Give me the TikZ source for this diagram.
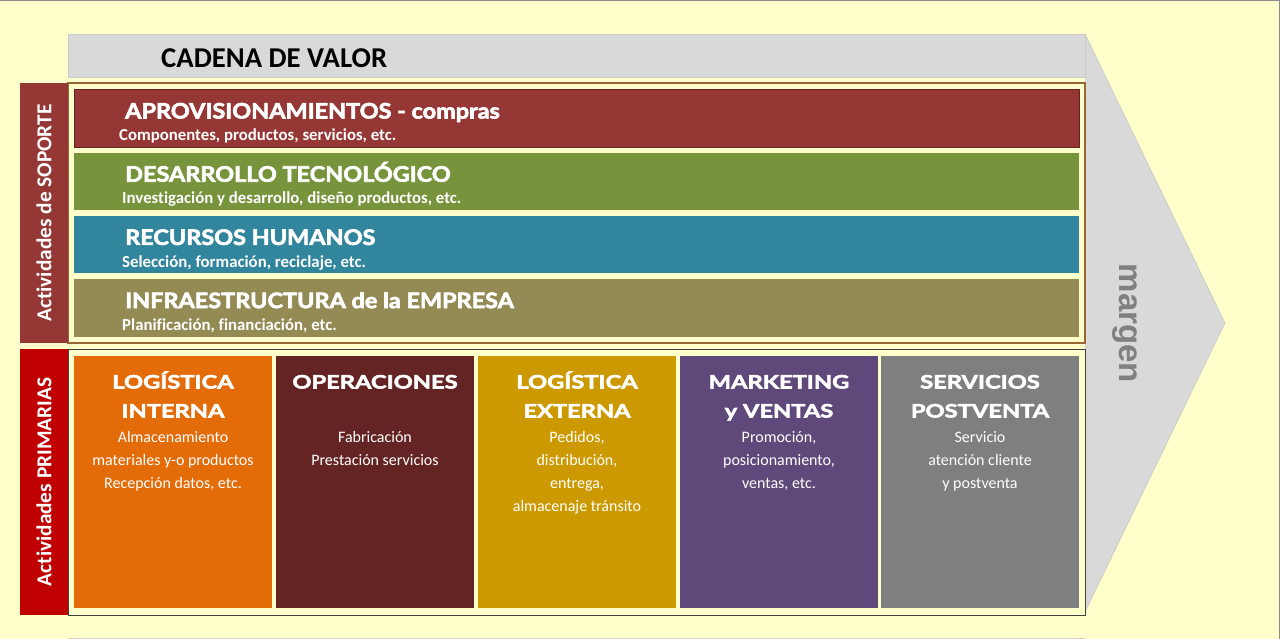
\documentclass[tikz,border=0pt]{standalone}
\usepackage{fontspec}
\setmainfont{Carlito}[Ligatures=NoCommon]
\newfontfamily\barfont{Lato}[FakeStretch=1.1, BoldFeatures={FakeBold=3}]
\newfontfamily\colfont{Lato}[FakeStretch=1.28, BoldFeatures={FakeBold=3}]
\newfontfamily\margenfont{Liberation Sans}
\usepackage{xcolor}
\usepackage{tikz}
\usetikzlibrary{positioning}

\definecolor{fondo}{HTML}{FFFFCC}
\definecolor{grisflecha}{HTML}{D9D9D9}
\definecolor{bordeflecha}{HTML}{BFBFBF}
\definecolor{aprov}{HTML}{953735}
\definecolor{tecno}{HTML}{77933C}
\definecolor{rrhh}{HTML}{31859C}
\definecolor{infra}{HTML}{948A54}
\definecolor{soporte}{HTML}{953735}
\definecolor{primarias}{HTML}{C00000}
\definecolor{logint}{HTML}{E36C09}
\definecolor{operac}{HTML}{632423}
\definecolor{logext}{HTML}{CC9900}
\definecolor{mkt}{HTML}{5F497A}
\definecolor{postv}{HTML}{7F7F7F}

% strut for the first line of the column texts
\newcommand{\puntal}[1]{\rule{0pt}{#1}}

\begin{document}
\begin{tikzpicture}[x=1pt, y=-1pt,
    barra/.style={rectangle, inner sep=0pt, outer sep=0pt, anchor=north west,
        minimum width=1005pt, minimum height=57.5pt},
    columna/.style={rectangle, inner sep=0pt, outer sep=0pt, anchor=north west,
        minimum width=198pt, minimum height=252pt},
    titbarra/.style={anchor=base west, inner sep=0pt, text=white,
        font=\barfont\bfseries\fontsize{21.3}{21.3}\selectfont},
    subbarra/.style={anchor=base west, inner sep=0pt, text=white,
        font=\bfseries\fontsize{16.8}{16.8}\selectfont},
    titcol/.style={anchor=north, inner sep=0pt, text=white, align=center,
        font=\colfont\bfseries\fontsize{18.5}{29}\selectfont},
    desccol/.style={anchor=north, inner sep=0pt, text=white, align=center,
        font=\fontsize{16}{23}\selectfont},
    etiqueta/.style={rectangle, inner sep=0pt, outer sep=0pt, anchor=north west,
        minimum width=48pt},
    textetiq/.style={rotate=90, inner sep=0pt, text=white,
        font=\bfseries\fontsize{21.3}{21.3}\selectfont}]

\useasboundingbox (0,0) rectangle (1280,639);
\fill[fondo] (0,0) rectangle (1280,639);
\draw[gray!90] (0,0.5) -- (1280,0.5);
\draw[gray!90] (1279.5,0) -- (1279.5,639);
\draw[bordeflecha!70!fondo] (68,638) -- (1085,638);

% Flecha gris (cadena de valor y margen)
\filldraw[fill=grisflecha, draw=bordeflecha] (1085,34) -- (1225,323) -- (1085,612) -- cycle;
\node[rectangle, fill=grisflecha, draw=bordeflecha!60!grisflecha, inner sep=0pt, anchor=north west,
    minimum width=1017pt, minimum height=43pt] (titulo) at (68,34) {};
\node[anchor=base west, inner sep=0pt, font=\bfseries\fontsize{28.7}{28.7}\selectfont] (tCadena) at (161,67.3) {CADENA DE VALOR};
\node[rotate=-90, inner sep=0pt, text=gray, font=\margenfont\bfseries\fontsize{33}{33}\selectfont] (margen) at (1124.5,323.5) {margen};

% Marcos
\draw[draw=brown!80!black, line width=1.2pt, fill=fondo] (68,83) rectangle (1085,343);
\draw[draw=black!75, line width=1pt, fill=fondo] (68,349) rectangle (1085,615);

% Etiquetas laterales
\node[etiqueta, fill=soporte, minimum height=260pt] (eSoporte) at (20,83) {};
\node[textetiq] (tSoporte) at (eSoporte.center) {Actividades de SOPORTE};
\node[etiqueta, fill=primarias, minimum height=266pt] (ePrimarias) at (20,349) {};
\node[textetiq] (tPrimarias) at (ePrimarias.center) {Actividades PRIMARIAS};

% Actividades de soporte
\node[barra, fill=aprov, draw=operac] (aprov) at (74,89.5) {};
\node[barra, fill=tecno] (tecno) at (74,152.7) {};
\node[barra, fill=rrhh] (rrhh) at (74,215.9) {};
\node[barra, fill=infra] (infra) at (74,279.1) {};

\node[titbarra] (tAprov) at (125,118.5) {APROVISIONAMIENTOS - compras};
\node[subbarra] (sAprov) at (119,140.8) {Componentes, productos, servicios, etc.};
\node[titbarra] (tTecno) at (125,181.7) {DESARROLLO TECNOLÓGICO};
\node[subbarra] (sTecno) at (122,204) {Investigación y desarrollo, diseño productos, etc.};
\node[titbarra] (tRrhh) at (125,244.9) {RECURSOS HUMANOS};
\node[subbarra] (sRrhh) at (122,267.2) {Selección, formación, reciclaje, etc.};
\node[titbarra] (tInfra) at (125,308.1) {INFRAESTRUCTURA de la EMPRESA};
\node[subbarra] (sInfra) at (122,330.4) {Planificación, financiación, etc.};

% Actividades primarias
\node[columna, fill=logint] (logint) at (74,356) {};
\node[columna, fill=operac] (operac) at (276,356) {};
\node[columna, fill=logext] (logext) at (478,356) {};
\node[columna, fill=mkt] (mkt) at (680,356) {};
\node[columna, fill=postv] (postv) at (881,356) {};

\node[titcol] (tLogint) at (logint.center |- 0,368.3) {\puntal{20pt}LOGÍSTICA\\INTERNA};
\node[desccol] (dLogint) at (logint.center |- 0,426) {\puntal{16pt}Almacenamiento\\materiales y-o productos\\Recepción datos, etc.};
\node[titcol] (tOperac) at (operac.center |- 0,368.3) {\puntal{20pt}OPERACIONES};
\node[desccol] (dOperac) at (operac.center |- 0,426) {\puntal{16pt}Fabricación\\Prestación servicios};
\node[titcol] (tLogext) at (logext.center |- 0,368.3) {\puntal{20pt}LOGÍSTICA\\EXTERNA};
\node[desccol] (dLogext) at (logext.center |- 0,426) {\puntal{16pt}Pedidos,\\distribución,\\entrega,\\almacenaje tránsito};
\node[titcol] (tMkt) at (mkt.center |- 0,368.3) {\puntal{20pt}MARKETING\\y VENTAS};
\node[desccol] (dMkt) at (mkt.center |- 0,426) {\puntal{16pt}Promoción,\\posicionamiento,\\ventas, etc.};
\node[titcol] (tPostv) at (postv.center |- 0,368.3) {\puntal{20pt}SERVICIOS\\POSTVENTA};
\node[desccol] (dPostv) at (postv.center |- 0,426) {\puntal{16pt}Servicio\\atención cliente\\y postventa};
\end{tikzpicture}
\end{document}
